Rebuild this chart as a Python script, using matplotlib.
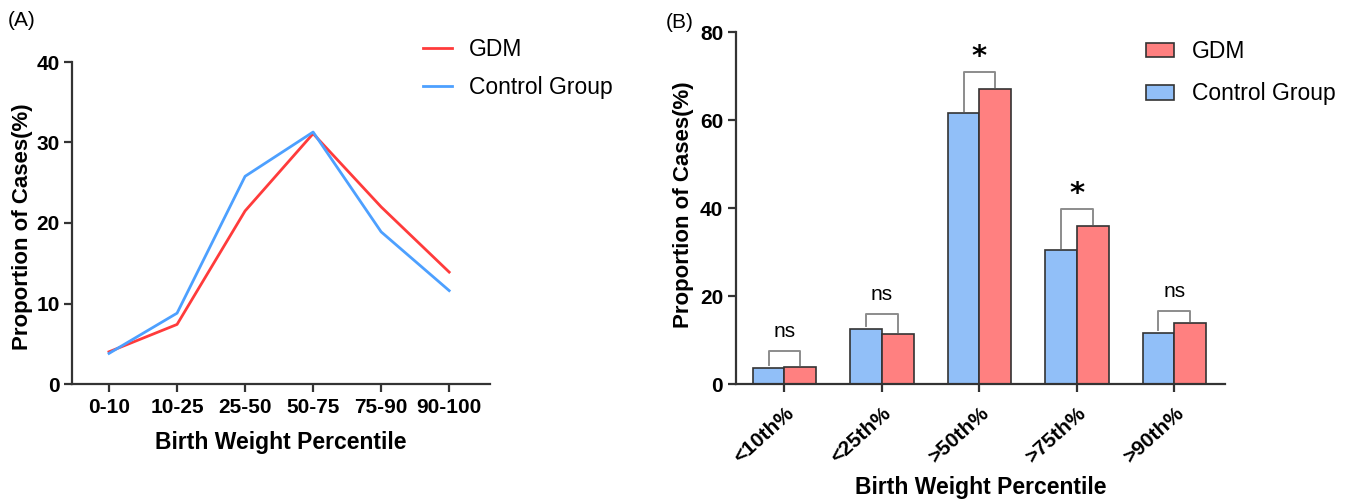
import matplotlib
matplotlib.use("Agg")
import matplotlib.pyplot as plt
import numpy as np

plt.rcParams['font.family'] = ['Liberation Sans', 'DejaVu Sans']

# Panel A data
cats_a = ["0-10", "10-25", "25-50", "50-75", "75-90", "90-100"]
gdm_a = [4.0, 7.4, 21.5, 31.1, 22.0, 13.9]
ctrl_a = [3.8, 8.8, 25.8, 31.3, 18.9, 11.6]

# Panel B data
cats_b = ["<10th%", "<25th%", ">50th%", ">75th%", ">90th%"]
ctrl_b = [3.7, 12.5, 61.6, 30.4, 11.6]
gdm_b = [3.9, 11.4, 67.2, 36.0, 13.9]
sig_b = ["ns", "ns", "*", "*", "ns"]
bracket_top = [7.6, 16.0, 70.9, 39.7, 16.7]

red_line = "#FF3B3B"
blue_line = "#4DA0FF"
red_bar = "#FF8080"
blue_bar = "#91BFF8"
axc = "#333333"
brc = "#8C8C8C"

W, H = 1348, 499
fig = plt.figure(figsize=(W / 100, H / 100), dpi=100)

def style(ax, xsize):
    for s in ["top", "right"]:
        ax.spines[s].set_visible(False)
    for s in ["left", "bottom"]:
        ax.spines[s].set_color(axc)
        ax.spines[s].set_linewidth(1.6)
    ax.tick_params(axis="both", colors=axc, width=1.6, length=6)
    ax.tick_params(axis="y", labelsize=15, pad=3)
    ax.tick_params(axis="x", labelsize=xsize, pad=4)
    for lab in ax.get_xticklabels() + ax.get_yticklabels():
        lab.set_fontweight("bold")
        lab.set_color("black")

# ---- Panel A ----
axA = fig.add_axes([72 / W, 1 - 384 / H, 418 / W, 322 / H])
x = np.arange(len(cats_a))
axA.plot(x, gdm_a, color=red_line, lw=2.0, label="GDM")
axA.plot(x, ctrl_a, color=blue_line, lw=2.0, label="Control Group")
axA.set_xlim(-0.544, 5.6)
axA.set_ylim(0, 40)
axA.set_yticks([0, 10, 20, 30, 40])
axA.set_xticks(x)
axA.set_xticklabels(cats_a)
style(axA, 15)
axA.set_xlabel("Birth Weight Percentile", fontsize=16.5, fontweight="bold")
axA.xaxis.set_label_coords(0.5, -0.146)
axA.set_ylabel("Proportion of Cases(%)", fontsize=16, fontweight="bold")
axA.yaxis.set_label_coords(-0.093, 0.49)
fig.legend(*axA.get_legend_handles_labels(), loc="upper left",
           bbox_to_anchor=(423 / W, 1 - 38 / H), bbox_transform=fig.transFigure,
           frameon=False, fontsize=16.5, handlelength=1.27, handletextpad=0.74,
           labelspacing=0.65, borderpad=0, borderaxespad=0)
fig.text(8 / W, 1 - 20 / H, "(A)", fontsize=15, va="center", ha="left")

# ---- Panel B ----
axB = fig.add_axes([735.7 / W, 1 - 384 / H, 489.3 / W, 351.7 / H])
xb = np.arange(len(cats_b))
w = 0.325
hc = axB.bar(xb - w / 2, ctrl_b, width=w, color=blue_bar, edgecolor=axc, lw=1.2, label="Control Group")
hg = axB.bar(xb + w / 2, gdm_b, width=w, color=red_bar, edgecolor=axc, lw=1.2, label="GDM")
axB.set_xlim(-0.5, 4.52)
axB.set_ylim(0, 80)
axB.set_yticks([0, 20, 40, 60, 80])
axB.set_xticks(xb)
axB.set_xticklabels(cats_b, rotation=42, ha="right", rotation_mode="anchor")
style(axB, 15)
axB.tick_params(axis="x", pad=8)
axB.set_xlabel("Birth Weight Percentile", fontsize=16.5, fontweight="bold")
axB.xaxis.set_label_coords(0.5, -0.262)
axB.set_ylabel("Proportion of Cases(%)", fontsize=16, fontweight="bold")
axB.yaxis.set_label_coords(-0.085, 0.51)

for i in range(len(cats_b)):
    top = bracket_top[i]
    axB.plot([xb[i] - w / 2, xb[i] - w / 2, xb[i] + w / 2, xb[i] + w / 2],
             [ctrl_b[i] + 0.6, top, top, gdm_b[i] + 0.4], color=brc, lw=1.4)
    if sig_b[i] == "*":
        axB.text(xb[i], top + 0.3, "*", ha="center", va="bottom", fontsize=21,
                 fontweight="bold", family=["DejaVu Sans"])
    else:
        axB.text(xb[i], top + 3.2, "ns", ha="center", va="baseline", fontsize=15)

fig.legend([hg, hc], ["GDM", "Control Group"], loc="upper left",
           bbox_to_anchor=(1146 / W, 1 - 40 / H), bbox_transform=fig.transFigure,
           frameon=False, fontsize=16.5, handlelength=1.22, handleheight=0.61,
           handletextpad=0.79, labelspacing=0.85, borderpad=0, borderaxespad=0)
fig.text(666 / W, 1 - 22 / H, "(B)", fontsize=15, va="center", ha="left")

fig.savefig("out.png", dpi=100)
